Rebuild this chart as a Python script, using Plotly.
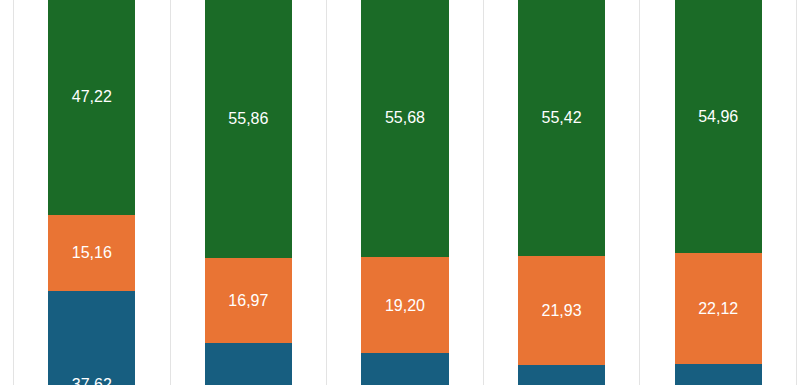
import plotly.graph_objects as go

categories = [0, 1, 2, 3, 4]
blue_vals = [37.62, 27.17, 25.12, 22.65, 22.92]
orange_vals = [15.16, 16.97, 19.20, 21.93, 22.12]
green_vals = [47.22, 55.86, 55.68, 55.42, 54.96]
grid_positions = [-0.5, 0.5, 1.5, 2.5, 3.5, 4.5]

def fmt(v):
    return f"{v:.2f}".replace(".", ",")

colors = {"blue": "#175e80", "orange": "#e97434", "green": "#1b6b27"}

fig = go.Figure()
for name, vals in [("blue", blue_vals), ("orange", orange_vals), ("green", green_vals)]:
    fig.add_trace(go.Bar(
        x=categories, y=vals, name=name,
        marker=dict(color=colors[name], line=dict(width=0)),
        text=[fmt(v) for v in vals], textposition="inside",
        insidetextanchor="middle",
        textfont=dict(color="white", size=16, family="Liberation Sans, Arial, sans-serif"),
        hoverinfo="skip",
    ))

pad = 1.5 / 156.6
fig.update_layout(
    barmode="stack", bargap=0.442, width=810, height=385,
    margin=dict(l=12, r=12, t=0, b=0),
    plot_bgcolor="white", paper_bgcolor="white", showlegend=False,
    xaxis=dict(range=[-0.5 - pad, 4.5 + pad], tickvals=grid_positions,
               showticklabels=False, showgrid=True, gridcolor="#e3e3e3", gridwidth=1,
               zeroline=False, showline=False, ticks=""),
    yaxis=dict(range=[18.72, 95.72], showgrid=False, showticklabels=False,
               zeroline=False, showline=False, ticks=""),
)
fig.write_html("out.html", config={"displayModeBar": False, "staticPlot": True},
               post_script="document.body.style.margin='0';document.body.style.overflow='hidden';")
